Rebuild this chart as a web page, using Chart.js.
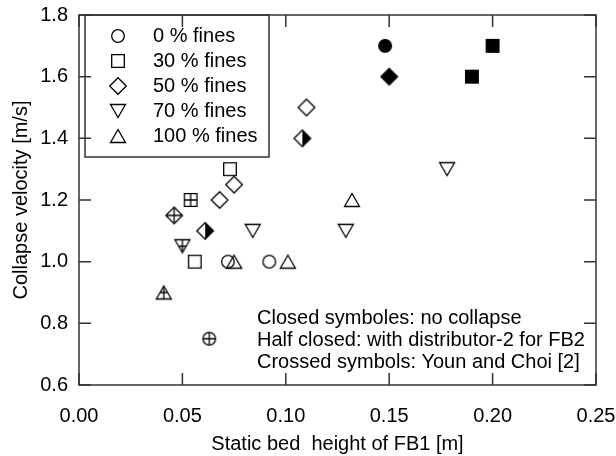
<!DOCTYPE html>
<html>
<head>
<meta charset="utf-8">
<script src="https://cdn.jsdelivr.net/npm/chart.js@4.4.0/dist/chart.umd.min.js"></script>
<style>
  html, body { margin: 0; padding: 0; background: #fff; }
  #wrap { width: 616px; height: 456px; }
</style>
</head>
<body>
<div id="wrap"><canvas id="chart" width="616" height="456"></canvas></div>
<script>
// ---- data ----
const categories = ['0 % fines', '30 % fines', '50 % fines', '70 % fines', '100 % fines'];

// open symbols
const open0 = [[0.072, 1.00], [0.092, 1.00]];
const open30 = [[0.073, 1.30], [0.056, 1.00]];
const open50 = [[0.075, 1.25], [0.068, 1.20], [0.110, 1.50]];
const open70 = [[0.084, 1.10], [0.129, 1.10], [0.178, 1.30]];
const open100 = [[0.075, 1.00], [0.101, 1.00], [0.132, 1.20]];

// closed symbols: no collapse
const closed0 = [[0.148, 1.70]];
const closed30 = [[0.190, 1.60], [0.200, 1.70]];
const closed50 = [[0.150, 1.60]];

// half closed: distributor-2
const half50 = [[0.061, 1.10], [0.108, 1.40]];

// crossed: Youn and Choi [2]
const crossed0 = [[0.063, 0.75]];
const crossed30 = [[0.054, 1.20]];
const crossed50 = [[0.046, 1.15]];
const crossed70 = [[0.050, 1.05]];
const crossed100 = [[0.041, 0.90]];

const xTicks = [0.00, 0.05, 0.10, 0.15, 0.20, 0.25];
const yTicks = [0.6, 0.8, 1.0, 1.2, 1.4, 1.6, 1.8];

const notes = [
    'Closed symboles: no collapse',
    'Half closed: with distributor-2 for FB2',
    'Crossed symbols: Youn and Choi [2]'
];

const groups = [
    { open: open0, closed: closed0, half: [], crossed: crossed0 },
    { open: open30, closed: closed30, half: [], crossed: crossed30 },
    { open: open50, closed: closed50, half: half50, crossed: crossed50 },
    { open: open70, closed: [], half: [], crossed: crossed70 },
    { open: open100, closed: [], half: [], crossed: crossed100 }
];

// ---- symbols ----
const shapes = ['circle', 'square', 'diamond', 'triDown', 'triUp'];
const FONT = "'Liberation Sans', Arial, sans-serif";

function tracePath(g, shape, m) {
    g.beginPath();
    if (shape === 'circle') {
        g.arc(m, m, 6.3, 0, Math.PI * 2);
    } else if (shape === 'square') {
        g.rect(m - 6.3, m - 6.3, 12.6, 12.6);
    } else if (shape === 'diamond') {
        g.moveTo(m, m - 8.3); g.lineTo(m + 8.3, m); g.lineTo(m, m + 8.3); g.lineTo(m - 8.3, m);
        g.closePath();
    } else if (shape === 'triUp') {
        g.moveTo(m, m - 6.5); g.lineTo(m + 7.5, m + 6.5); g.lineTo(m - 7.5, m + 6.5);
        g.closePath();
    } else {
        g.moveTo(m - 7.5, m - 6.5); g.lineTo(m + 7.5, m - 6.5); g.lineTo(m, m + 6.5);
        g.closePath();
    }
}

function makeSymbol(shape, fill) {
    const c = document.createElement('canvas');
    c.width = 22; c.height = 22;
    const g = c.getContext('2d');
    const m = 11;
    g.lineWidth = 1.3;
    g.strokeStyle = '#000';
    g.fillStyle = '#000';

    if (fill === 'closed') {
        tracePath(g, shape, m);
        g.fill();
    } else if (fill === 'half') {
        g.save();
        tracePath(g, shape, m);
        g.clip();
        g.fillRect(m, 0, 11, 22);
        g.restore();
    } else if (fill === 'crossed') {
        g.save();
        tracePath(g, shape, m);
        g.clip();
        g.beginPath();
        g.moveTo(0, m); g.lineTo(22, m);
        g.moveTo(m, 0); g.lineTo(m, 22);
        g.stroke();
        g.restore();
    }
    tracePath(g, shape, m);
    g.stroke();
    return c;
}

// ---- datasets ----
const datasets = [];
groups.forEach((grp, i) => {
    ['open', 'half', 'crossed', 'closed'].forEach(kind => {
        if (!grp[kind].length) return;
        datasets.push({
            label: categories[i] + ' ' + kind,
            data: grp[kind].map(p => ({ x: p[0], y: p[1] })),
            pointStyle: makeSymbol(shapes[i], kind),
            showLine: false
        });
    });
});

const legendSymbols = shapes.map(s => makeSymbol(s, 'open'));

// frame with inward ticks on all four sides
const framePlugin = {
    id: 'frame',
    beforeDatasetsDraw(chart) {
        const { ctx, chartArea: a, scales: { x, y } } = chart;
        ctx.save();
        ctx.strokeStyle = '#333';
        ctx.lineWidth = 1.5;
        ctx.strokeRect(a.left, a.top, a.right - a.left, a.bottom - a.top);
        ctx.beginPath();
        xTicks.forEach(v => {
            const px = x.getPixelForValue(v);
            ctx.moveTo(px, a.bottom); ctx.lineTo(px, a.bottom - 12);
            ctx.moveTo(px, a.top); ctx.lineTo(px, a.top + 12);
        });
        yTicks.forEach(v => {
            const py = y.getPixelForValue(v);
            ctx.moveTo(a.left, py); ctx.lineTo(a.left + 12, py);
            ctx.moveTo(a.right, py); ctx.lineTo(a.right - 12, py);
        });
        ctx.stroke();
        ctx.restore();
    },
    afterDraw(chart) {
        const { ctx, chartArea: a } = chart;
        ctx.save();
        // legend box
        ctx.strokeStyle = '#333';
        ctx.lineWidth = 1.5;
        ctx.strokeRect(a.left + 6, a.top, 184, 142);
        ctx.font = '20px ' + FONT;
        ctx.fillStyle = '#000';
        ctx.textBaseline = 'middle';
        categories.forEach((name, i) => {
            const yy = a.top + 21 + i * 25;
            const sym = legendSymbols[i];
            ctx.drawImage(sym, Math.round(a.left + 38.5 - sym.width / 2), Math.round(yy - sym.height / 2));
            ctx.fillText(name, a.left + 74, yy);
        });
        // notes
        notes.forEach((t, i) => {
            ctx.fillText(t, a.left + 178, a.bottom - 67 + i * 22);
        });
        ctx.restore();
    }
};

new Chart(document.getElementById('chart').getContext('2d'), {
    type: 'scatter',
    data: { datasets: datasets },
    options: {
        responsive: false,
        animation: false,
        devicePixelRatio: 1,
        events: [],
        layout: { padding: { left: 0, right: 20, top: 15, bottom: 0 } },
        plugins: {
            legend: { display: false },
            tooltip: { enabled: false }
        },
        scales: {
            x: {
                type: 'linear',
                min: 0,
                max: 0.25,
                afterBuildTicks: s => { s.ticks = xTicks.map(v => ({ value: v })); },
                afterFit: s => { s.height = 71; s.paddingLeft = 0; s.paddingRight = 0; },
                grid: { display: false, drawTicks: false },
                border: { display: false },
                ticks: {
                    padding: 19,
                    color: '#000',
                    font: { family: FONT, size: 20 },
                    maxRotation: 0,
                    callback: v => Number(v).toFixed(2)
                },
                title: {
                    display: true,
                    text: 'Static bed  height of FB1 [m]',
                    color: '#000',
                    font: { family: FONT, size: 20 },
                    padding: { top: 4, bottom: 0 }
                }
            },
            y: {
                type: 'linear',
                min: 0.6,
                max: 1.8,
                afterBuildTicks: s => { s.ticks = yTicks.map(v => ({ value: v })); },
                afterFit: s => { s.width = 79; s.paddingTop = 0; s.paddingBottom = 0; },
                grid: { display: false, drawTicks: false },
                border: { display: false },
                ticks: {
                    padding: 11,
                    color: '#000',
                    font: { family: FONT, size: 20 },
                    callback: v => Number(v).toFixed(1)
                },
                title: {
                    display: true,
                    text: 'Collapse velocity [m/s]',
                    color: '#000',
                    font: { family: FONT, size: 20 },
                    padding: { top: 9, bottom: 0 }
                }
            }
        }
    },
    plugins: [framePlugin]
});
</script>
</body>
</html>
